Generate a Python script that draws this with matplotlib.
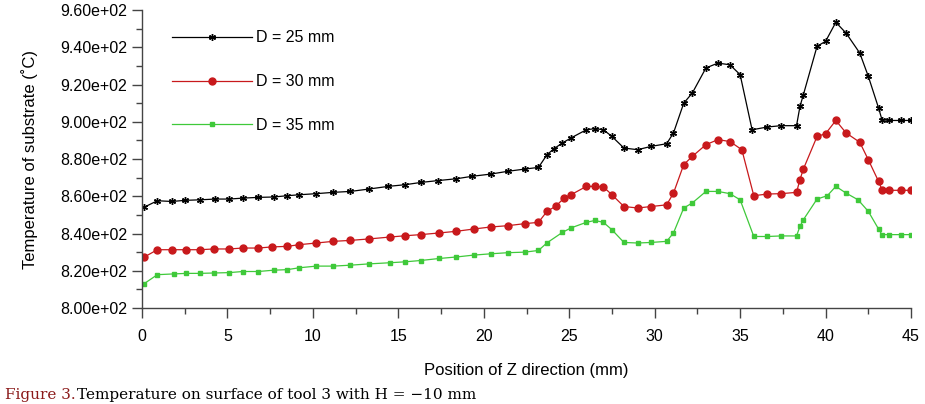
import matplotlib
matplotlib.use("Agg")
from matplotlib import pyplot as plt
from matplotlib.ticker import MultipleLocator, FuncFormatter

# Position of Z direction (mm)
z_25 = [0.1, 0.9, 1.75, 2.5, 3.4, 4.3, 5.1, 5.9, 6.8, 7.7, 8.5, 9.2, 10.2, 11.2, 12.2, 13.3,
        14.4, 15.4, 16.3, 17.3, 18.4, 19.3, 20.4, 21.4, 22.4, 23.2, 23.7, 24.1, 24.6, 25.1, 26.0,
        26.5, 27.0, 27.5, 28.2, 29.0, 29.8, 30.7, 31.1, 31.7, 32.2, 33.0, 33.7, 34.4, 35.0,
        35.7, 36.6, 37.4, 38.3, 38.5, 38.7, 39.5, 40.0, 40.6, 41.2, 42.0, 42.5, 43.1, 43.3,
        43.7, 44.4, 45.0]
t_25 = [854.0, 857.6, 857.2, 857.8, 858.1, 858.5, 858.5, 859.0, 859.4, 859.6, 860.3, 860.8, 861.4,
        862.1, 862.6, 863.9, 865.3, 866.2, 867.4, 868.4, 869.4, 870.7, 871.9, 873.4, 874.6,
        875.5, 882.3, 885.5, 888.6, 891.3, 895.7, 896.3, 895.7, 892.1, 885.9, 885.0, 886.8,
        888.2, 894.0, 910.0, 915.4, 928.9, 931.5, 930.6, 925.3, 895.7, 897.2, 897.9, 897.9,
        908.2, 914.5, 940.5, 943.2, 953.4, 947.6, 936.9, 924.4, 907.4, 901.1, 900.7, 900.7,
        900.7]

z_30 = [0.1, 0.9, 1.75, 2.6, 3.4, 4.2, 5.1, 5.9, 6.8, 7.6, 8.5, 9.2, 10.2, 11.2, 12.2, 13.3,
        14.5, 15.4, 16.3, 17.4, 18.4, 19.4, 20.4, 21.4, 22.4, 23.2, 23.7, 24.2, 24.7, 25.1,
        26.0, 26.5, 27.0, 27.5, 28.2, 29.0, 29.8, 30.7, 31.1, 31.7, 32.2, 33.0, 33.7, 34.4,
        35.1, 35.8, 36.6, 37.4, 38.3, 38.5, 38.7, 39.5, 40.0, 40.6, 41.2, 42.0, 42.5, 43.1,
        43.3, 43.7, 44.4, 45.0]
t_30 = [827.2, 831.3, 831.3, 831.3, 831.3, 831.7, 831.7, 832.2, 832.2, 832.8, 833.1, 834.0, 834.9,
        835.8, 836.3, 837.1, 838.1, 838.8, 839.4, 840.3, 841.2, 842.4, 843.5, 844.2, 845.3,
        846.0, 851.9, 854.6, 859.0, 860.8, 865.3, 865.3, 865.0, 860.8, 854.5, 853.7, 854.5,
        855.4, 861.7, 877.0, 881.4, 887.7, 890.4, 889.4, 885.0, 860.3, 861.2, 861.4, 862.1,
        868.9, 874.6, 892.1, 893.6, 900.7, 894.0, 889.0, 879.6, 868.0, 863.5, 863.2, 863.2,
        863.2]

z_35 = [0.1, 0.9, 1.85, 2.6, 3.4, 4.2, 5.1, 5.9, 6.8, 7.7, 8.5, 9.2, 10.2, 11.2, 12.2, 13.3,
        14.5, 15.4, 16.3, 17.4, 18.4, 19.4, 20.4, 21.4, 22.4, 23.2, 23.7, 24.6, 25.1, 26.0,
        26.5, 27.0, 27.5, 28.2, 29.0, 29.8, 30.7, 31.1, 31.7, 32.2, 33.0, 33.7, 34.4, 35.0,
        35.8, 36.6, 37.4, 38.3, 38.5, 38.7, 39.5, 40.1, 40.6, 41.2, 41.9, 42.5, 43.1, 43.3,
        43.7, 44.4, 45.0]
t_35 = [812.9, 817.9, 818.3, 818.6, 818.6, 818.8, 819.0, 819.6, 819.6, 820.3, 820.6, 821.6, 822.5,
        822.5, 823.0, 823.7, 824.3, 824.8, 825.5, 826.6, 827.4, 828.4, 829.1, 829.7, 830.0,
        830.9, 835.0, 840.6, 843.0, 846.0, 847.0, 846.0, 842.0, 835.2, 834.9, 835.2, 835.8,
        840.3, 853.7, 856.4, 862.6, 862.6, 861.4, 858.1, 838.4, 838.4, 838.7, 838.7, 843.8,
        847.4, 858.5, 860.3, 865.3, 861.7, 858.1, 851.9, 842.4, 839.4, 839.4, 839.4, 839.4]

labels = ["D = 25 mm", "D = 30 mm", "D = 35 mm"]

plt.rcParams['font.family'] = ['Liberation Sans', 'DejaVu Sans']

fig = plt.figure(figsize=(9.25, 4.04), dpi=100)
ax = fig.add_axes([0.1535, 0.2376, 0.8314, 0.7376])

ax.plot(z_25, t_25, color="black", lw=0.9, marker=(6, 2, 0), ms=5, mew=1.0, label=labels[0])
ax.plot(z_30, t_30, color="#c8191c", lw=0.9, marker="o", ms=5, mec="#c8191c", label=labels[1])
ax.plot(z_35, t_35, color="#3fc93a", lw=0.9, marker="s", ms=3, mec="#3fc93a", label=labels[2])

ax.set_xlim(0, 45)
ax.set_ylim(800, 960)
ax.xaxis.set_major_locator(MultipleLocator(5))
ax.xaxis.set_minor_locator(MultipleLocator(2.5))
ax.yaxis.set_major_locator(MultipleLocator(20))
ax.yaxis.set_minor_locator(MultipleLocator(10))
ax.yaxis.set_major_formatter(FuncFormatter(lambda v, p: "{:.2e}".format(v)))

for s in ["top", "right"]:
    ax.spines[s].set_visible(False)
for s in ["left", "bottom"]:
    ax.spines[s].set_color("#444444")
    ax.spines[s].set_linewidth(1.0)

ax.tick_params(which="major", direction="out", length=7, width=1.0, color="#444444", labelsize=11.5)
ax.tick_params(which="minor", direction="out", length=4, width=1.0, color="#444444")
ax.tick_params(axis="x", pad=8)

ax.set_xlabel("Position of Z direction (mm)", fontsize=12, labelpad=14)
ax.set_ylabel("Temperature of substrate (˚C)", fontsize=12, labelpad=16)

ax.legend(loc="upper left", bbox_to_anchor=(0.02, 0.98), frameon=False, fontsize=11.5,
          numpoints=1, handlelength=5.0, labelspacing=1.8, handletextpad=0.3)

fig.text(0.005, 0.004, "Figure 3.", color="#8b1a1a", fontsize=11, family="serif", va="bottom")
fig.text(0.083, 0.004, "Temperature on surface of tool 3 with H = \u221210 mm",
         color="black", fontsize=11, family="serif", va="bottom")

plt.savefig("out.png", dpi=100)
